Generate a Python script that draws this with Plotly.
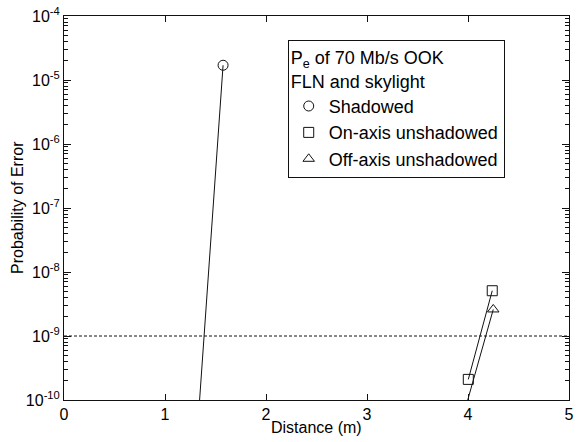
import plotly.graph_objects as go

# Probability of error vs. distance, 70 Mb/s OOK with FLN and skylight
shadowed_dist = [1.30, 1.575]
shadowed_pe = [1.1e-11, 1.7e-5]

onaxis_dist = [4.003, 4.24]
onaxis_pe = [2.1e-10, 5.1e-9]

offaxis_dist = [3.98, 4.25]
offaxis_pe = [8.0e-11, 2.6e-9]

threshold_dist = [0, 5]
threshold_pe = [1e-9, 1e-9]

decades = [-10, -9, -8, -7, -6, -5, -4]
ytick_vals = [10.0 ** d for d in decades]
ytick_text = ["10<sup>%d</sup>" % d for d in decades]
yminor_vals = [m * 10.0 ** d for d in decades[:-1] for m in range(2, 10)]

xtick_vals = [0, 1, 2, 3, 4, 5]

FONT = "Liberation Sans, Arial, Helvetica, sans-serif"
INK = "#111111"

series = [
    ("Shadowed", shadowed_dist, shadowed_pe, "circle-open"),
    ("On-axis unshadowed", onaxis_dist, onaxis_pe, "square-open"),
    ("Off-axis unshadowed", offaxis_dist, offaxis_pe, "triangle-up-open"),
]

fig = go.Figure()

fig.add_trace(go.Scatter(
    x=threshold_dist, y=threshold_pe, mode="lines",
    line=dict(color=INK, width=1, dash="3px,2px"),
    showlegend=False, hoverinfo="skip",
))

for name, xs, ys, sym in series:
    fig.add_trace(go.Scatter(
        x=xs, y=ys, mode="lines",
        line=dict(color=INK, width=1),
        showlegend=False,
    ))
    fig.add_trace(go.Scatter(
        x=xs, y=ys, mode="markers", name=name,
        marker=dict(symbol=sym, size=10, color=INK, line=dict(width=1, color=INK)),
    ))

axis_common = dict(
    showline=True, linecolor=INK, linewidth=1, mirror="allticks",
    ticks="inside", tickcolor=INK, tickwidth=1,
    showgrid=False, zeroline=False,
    tickfont=dict(family=FONT, size=16, color="black"),
)

fig.update_xaxes(
    range=[0, 5], tickmode="array", tickvals=xtick_vals, ticklen=6,
    ticklabeloverflow="allow",
    **axis_common,
)
fig.update_yaxes(
    type="log", range=[-10, -4], tickmode="array",
    tickvals=ytick_vals, ticktext=ytick_text, ticklen=7,
    minor=dict(tickmode="array", tickvals=yminor_vals, ticks="inside",
               ticklen=4, tickcolor=INK, tickwidth=1),
    **axis_common,
)

fig.update_layout(
    width=576, height=442,
    margin=dict(l=64, r=2, t=16, b=42),
    paper_bgcolor="white", plot_bgcolor="white",
    font=dict(family=FONT, size=16, color="black"),
    legend=dict(
        x=0.443, y=0.9375, xanchor="left", yanchor="top",
        bgcolor="white", bordercolor=INK, borderwidth=1,
        font=dict(family=FONT, size=18, color="black"),
        title=dict(text="P<sub>e</sub> of 70 Mb/s OOK<br>FLN and skylight",
                   font=dict(family=FONT, size=18, color="black")),
    ),
    annotations=[
        dict(text="Distance (m)", xref="paper", yref="paper", x=0.5, y=0,
             yshift=-27, showarrow=False, xanchor="center", yanchor="middle",
             font=dict(family=FONT, size=16, color="black")),
        dict(text="Probability of Error", xref="paper", yref="paper", x=0, y=0.5,
             xshift=-47, showarrow=False, textangle=-90,
             xanchor="center", yanchor="middle",
             font=dict(family=FONT, size=16, color="black")),
    ],
)

fig.write_html("out.html")
